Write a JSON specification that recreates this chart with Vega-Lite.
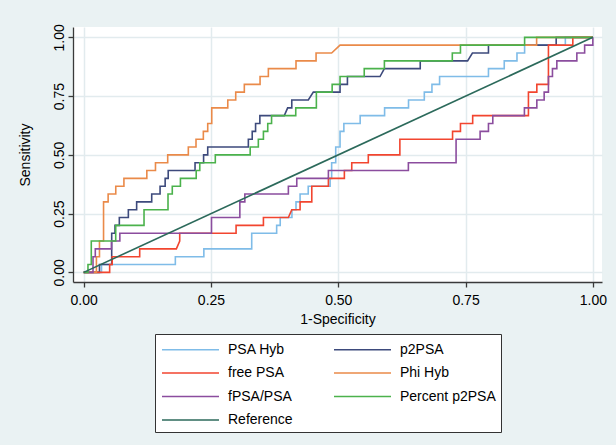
{
  "$schema": "https://vega.github.io/schema/vega-lite/v6.json",
  "autosize": {"type": "none"},
  "width": 529,
  "height": 255,
  "padding": {"left": 73, "top": 27, "right": 14, "bottom": 163},
  "background": "#eaf2f3",
  "config": {
    "view": {"fill": "white", "stroke": null},
    "font": "Liberation Sans",
    "axis": {
      "domainColor": "#3a3a3a", "domainWidth": 1.3, "tickColor": "#3a3a3a", "tickWidth": 1.3, "tickSize": 5,
      "gridColor": "#e2ebee", "gridWidth": 1.5,
      "labelFont": "Liberation Sans", "labelFontSize": 14, "labelColor": "black",
      "titleFont": "Liberation Sans", "titleFontSize": 14, "titleFontWeight": "normal", "titleColor": "black"
    },
    "legend": {
      "orient": "none", "legendX": 82, "legendY": 307, "columns": 2, "direction": "horizontal",
      "symbolType": "M-1,0H5", "symbolSize": 361, "symbolStrokeWidth": 1.6, "symbolFillColor": "transparent", "symbolOffset": 1,
      "labelFont": "Liberation Sans", "labelFontSize": 14, "labelColor": "black", "labelOffset": 46,
      "strokeColor": "#333", "fillColor": "white", "padding": 5, "rowPadding": 5.5, "columnPadding": 37
    }
  },
  "data": {"values": [
    {"s":"PSA Hyb","o":0,"x":0,"y":0},{"s":"PSA Hyb","o":1,"x":0.035,"y":0},{"s":"PSA Hyb","o":2,"x":0.035,"y":0.0333},{"s":"PSA Hyb","o":3,"x":0.18,"y":0.0333},{"s":"PSA Hyb","o":4,"x":0.18,"y":0.0667},{"s":"PSA Hyb","o":5,"x":0.236,"y":0.0667},{"s":"PSA Hyb","o":6,"x":0.236,"y":0.1},{"s":"PSA Hyb","o":7,"x":0.33,"y":0.1},{"s":"PSA Hyb","o":8,"x":0.33,"y":0.1667},{"s":"PSA Hyb","o":9,"x":0.379,"y":0.1667},{"s":"PSA Hyb","o":10,"x":0.379,"y":0.2},{"s":"PSA Hyb","o":11,"x":0.386,"y":0.2},{"s":"PSA Hyb","o":12,"x":0.386,"y":0.2333},{"s":"PSA Hyb","o":13,"x":0.409,"y":0.2333},{"s":"PSA Hyb","o":14,"x":0.409,"y":0.2667},{"s":"PSA Hyb","o":15,"x":0.417,"y":0.2667},{"s":"PSA Hyb","o":16,"x":0.417,"y":0.3},{"s":"PSA Hyb","o":17,"x":0.425,"y":0.3},{"s":"PSA Hyb","o":18,"x":0.425,"y":0.3333},{"s":"PSA Hyb","o":19,"x":0.441,"y":0.3333},{"s":"PSA Hyb","o":20,"x":0.441,"y":0.3667},{"s":"PSA Hyb","o":21,"x":0.484,"y":0.3667},{"s":"PSA Hyb","o":22,"x":0.484,"y":0.4},{"s":"PSA Hyb","o":23,"x":0.487,"y":0.4},{"s":"PSA Hyb","o":24,"x":0.487,"y":0.4667},{"s":"PSA Hyb","o":25,"x":0.495,"y":0.4667},{"s":"PSA Hyb","o":26,"x":0.495,"y":0.5333},{"s":"PSA Hyb","o":27,"x":0.5035,"y":0.5333},{"s":"PSA Hyb","o":28,"x":0.5035,"y":0.6},{"s":"PSA Hyb","o":29,"x":0.511,"y":0.6},{"s":"PSA Hyb","o":30,"x":0.511,"y":0.6333},{"s":"PSA Hyb","o":31,"x":0.543,"y":0.6333},{"s":"PSA Hyb","o":32,"x":0.543,"y":0.6667},{"s":"PSA Hyb","o":33,"x":0.591,"y":0.6667},{"s":"PSA Hyb","o":34,"x":0.591,"y":0.7},{"s":"PSA Hyb","o":35,"x":0.638,"y":0.7},{"s":"PSA Hyb","o":36,"x":0.638,"y":0.7333},{"s":"PSA Hyb","o":37,"x":0.669,"y":0.7333},{"s":"PSA Hyb","o":38,"x":0.669,"y":0.7667},{"s":"PSA Hyb","o":39,"x":0.684,"y":0.7667},{"s":"PSA Hyb","o":40,"x":0.684,"y":0.8},{"s":"PSA Hyb","o":41,"x":0.699,"y":0.8},{"s":"PSA Hyb","o":42,"x":0.699,"y":0.8333},{"s":"PSA Hyb","o":43,"x":0.795,"y":0.8333},{"s":"PSA Hyb","o":44,"x":0.795,"y":0.8667},{"s":"PSA Hyb","o":45,"x":0.826,"y":0.8667},{"s":"PSA Hyb","o":46,"x":0.826,"y":0.9},{"s":"PSA Hyb","o":47,"x":0.851,"y":0.9},{"s":"PSA Hyb","o":48,"x":0.851,"y":0.9333},{"s":"PSA Hyb","o":49,"x":0.866,"y":0.9333},{"s":"PSA Hyb","o":50,"x":0.866,"y":0.9667},{"s":"PSA Hyb","o":51,"x":0.946,"y":0.9667},{"s":"PSA Hyb","o":52,"x":0.946,"y":1},{"s":"PSA Hyb","o":53,"x":1,"y":1},

    {"s":"p2PSA","o":0,"x":0,"y":0},{"s":"p2PSA","o":1,"x":0.031,"y":0},{"s":"p2PSA","o":2,"x":0.031,"y":0.0333},{"s":"p2PSA","o":3,"x":0.055,"y":0.0333},{"s":"p2PSA","o":4,"x":0.055,"y":0.1667},{"s":"p2PSA","o":5,"x":0.0615,"y":0.1667},{"s":"p2PSA","o":6,"x":0.0615,"y":0.2},{"s":"p2PSA","o":7,"x":0.07,"y":0.2},{"s":"p2PSA","o":8,"x":0.07,"y":0.2333},{"s":"p2PSA","o":9,"x":0.0877,"y":0.2333},{"s":"p2PSA","o":10,"x":0.0877,"y":0.2667},{"s":"p2PSA","o":11,"x":0.104,"y":0.2667},{"s":"p2PSA","o":12,"x":0.104,"y":0.3},{"s":"p2PSA","o":13,"x":0.1336,"y":0.3},{"s":"p2PSA","o":14,"x":0.1336,"y":0.3333},{"s":"p2PSA","o":15,"x":0.15,"y":0.3333},{"s":"p2PSA","o":16,"x":0.15,"y":0.3667},{"s":"p2PSA","o":17,"x":0.16,"y":0.3667},{"s":"p2PSA","o":18,"x":0.16,"y":0.4},{"s":"p2PSA","o":19,"x":0.166,"y":0.4},{"s":"p2PSA","o":20,"x":0.166,"y":0.4333},{"s":"p2PSA","o":21,"x":0.2187,"y":0.4333},{"s":"p2PSA","o":22,"x":0.2187,"y":0.4667},{"s":"p2PSA","o":23,"x":0.2355,"y":0.4667},{"s":"p2PSA","o":24,"x":0.2355,"y":0.5},{"s":"p2PSA","o":25,"x":0.2436,"y":0.5},{"s":"p2PSA","o":26,"x":0.2436,"y":0.5333},{"s":"p2PSA","o":27,"x":0.3234,"y":0.5333},{"s":"p2PSA","o":28,"x":0.3234,"y":0.5667},{"s":"p2PSA","o":29,"x":0.331,"y":0.5667},{"s":"p2PSA","o":30,"x":0.331,"y":0.6},{"s":"p2PSA","o":31,"x":0.3376,"y":0.6},{"s":"p2PSA","o":32,"x":0.3376,"y":0.6333},{"s":"p2PSA","o":33,"x":0.346,"y":0.6333},{"s":"p2PSA","o":34,"x":0.346,"y":0.6667},{"s":"p2PSA","o":35,"x":0.394,"y":0.6667},{"s":"p2PSA","o":36,"x":0.4006,"y":0.7},{"s":"p2PSA","o":37,"x":0.4087,"y":0.7},{"s":"p2PSA","o":38,"x":0.4087,"y":0.7333},{"s":"p2PSA","o":39,"x":0.4412,"y":0.7333},{"s":"p2PSA","o":40,"x":0.451,"y":0.7667},{"s":"p2PSA","o":41,"x":0.5035,"y":0.7667},{"s":"p2PSA","o":42,"x":0.5035,"y":0.8},{"s":"p2PSA","o":43,"x":0.518,"y":0.8},{"s":"p2PSA","o":44,"x":0.518,"y":0.8333},{"s":"p2PSA","o":45,"x":0.582,"y":0.8333},{"s":"p2PSA","o":46,"x":0.5906,"y":0.8667},{"s":"p2PSA","o":47,"x":0.661,"y":0.8667},{"s":"p2PSA","o":48,"x":0.661,"y":0.9},{"s":"p2PSA","o":49,"x":0.754,"y":0.9},{"s":"p2PSA","o":50,"x":0.7635,"y":0.9333},{"s":"p2PSA","o":51,"x":0.795,"y":0.9333},{"s":"p2PSA","o":52,"x":0.795,"y":0.9667},{"s":"p2PSA","o":53,"x":0.928,"y":0.9667},{"s":"p2PSA","o":54,"x":0.928,"y":1},{"s":"p2PSA","o":55,"x":1,"y":1},

    {"s":"free PSA","o":0,"x":0,"y":0},{"s":"free PSA","o":1,"x":0.051,"y":0},{"s":"free PSA","o":2,"x":0.051,"y":0.0333},{"s":"free PSA","o":3,"x":0.056,"y":0.0333},{"s":"free PSA","o":4,"x":0.056,"y":0.0667},{"s":"free PSA","o":5,"x":0.11,"y":0.0667},{"s":"free PSA","o":6,"x":0.11,"y":0.1},{"s":"free PSA","o":7,"x":0.182,"y":0.1},{"s":"free PSA","o":8,"x":0.1886,"y":0.1333},{"s":"free PSA","o":9,"x":0.1886,"y":0.1667},{"s":"free PSA","o":10,"x":0.2993,"y":0.1667},{"s":"free PSA","o":11,"x":0.2993,"y":0.2},{"s":"free PSA","o":12,"x":0.353,"y":0.2},{"s":"free PSA","o":13,"x":0.353,"y":0.2333},{"s":"free PSA","o":14,"x":0.402,"y":0.2333},{"s":"free PSA","o":15,"x":0.4087,"y":0.2667},{"s":"free PSA","o":16,"x":0.425,"y":0.2667},{"s":"free PSA","o":17,"x":0.425,"y":0.3},{"s":"free PSA","o":18,"x":0.448,"y":0.3},{"s":"free PSA","o":19,"x":0.448,"y":0.3667},{"s":"free PSA","o":20,"x":0.4806,"y":0.3667},{"s":"free PSA","o":21,"x":0.4806,"y":0.4},{"s":"free PSA","o":22,"x":0.512,"y":0.4},{"s":"free PSA","o":23,"x":0.512,"y":0.4333},{"s":"free PSA","o":24,"x":0.5265,"y":0.4333},{"s":"free PSA","o":25,"x":0.5265,"y":0.4667},{"s":"free PSA","o":26,"x":0.559,"y":0.4667},{"s":"free PSA","o":27,"x":0.559,"y":0.5},{"s":"free PSA","o":28,"x":0.621,"y":0.5},{"s":"free PSA","o":29,"x":0.621,"y":0.5667},{"s":"free PSA","o":30,"x":0.7245,"y":0.5667},{"s":"free PSA","o":31,"x":0.7245,"y":0.6},{"s":"free PSA","o":32,"x":0.74,"y":0.6},{"s":"free PSA","o":33,"x":0.74,"y":0.6333},{"s":"free PSA","o":34,"x":0.764,"y":0.6333},{"s":"free PSA","o":35,"x":0.764,"y":0.6667},{"s":"free PSA","o":36,"x":0.8735,"y":0.6667},{"s":"free PSA","o":37,"x":0.8735,"y":0.7667},{"s":"free PSA","o":38,"x":0.89,"y":0.7667},{"s":"free PSA","o":39,"x":0.89,"y":0.8},{"s":"free PSA","o":40,"x":0.9128,"y":0.8},{"s":"free PSA","o":41,"x":0.9128,"y":0.9667},{"s":"free PSA","o":42,"x":0.9607,"y":0.9667},{"s":"free PSA","o":43,"x":0.9607,"y":1},{"s":"free PSA","o":44,"x":1,"y":1},

    {"s":"Phi Hyb","o":0,"x":0,"y":0},{"s":"Phi Hyb","o":1,"x":0.025,"y":0},{"s":"Phi Hyb","o":2,"x":0.025,"y":0.0667},{"s":"Phi Hyb","o":3,"x":0.031,"y":0.0667},{"s":"Phi Hyb","o":4,"x":0.031,"y":0.1333},{"s":"Phi Hyb","o":5,"x":0.039,"y":0.1333},{"s":"Phi Hyb","o":6,"x":0.039,"y":0.3},{"s":"Phi Hyb","o":7,"x":0.048,"y":0.3},{"s":"Phi Hyb","o":8,"x":0.048,"y":0.3333},{"s":"Phi Hyb","o":9,"x":0.063,"y":0.3333},{"s":"Phi Hyb","o":10,"x":0.063,"y":0.3667},{"s":"Phi Hyb","o":11,"x":0.079,"y":0.3667},{"s":"Phi Hyb","o":12,"x":0.079,"y":0.4},{"s":"Phi Hyb","o":13,"x":0.124,"y":0.4},{"s":"Phi Hyb","o":14,"x":0.124,"y":0.4333},{"s":"Phi Hyb","o":15,"x":0.141,"y":0.4333},{"s":"Phi Hyb","o":16,"x":0.141,"y":0.4667},{"s":"Phi Hyb","o":17,"x":0.165,"y":0.4667},{"s":"Phi Hyb","o":18,"x":0.165,"y":0.5},{"s":"Phi Hyb","o":19,"x":0.2055,"y":0.5},{"s":"Phi Hyb","o":20,"x":0.2055,"y":0.5333},{"s":"Phi Hyb","o":21,"x":0.2206,"y":0.5333},{"s":"Phi Hyb","o":22,"x":0.2206,"y":0.5667},{"s":"Phi Hyb","o":23,"x":0.235,"y":0.5667},{"s":"Phi Hyb","o":24,"x":0.235,"y":0.6},{"s":"Phi Hyb","o":25,"x":0.2436,"y":0.6},{"s":"Phi Hyb","o":26,"x":0.2436,"y":0.6333},{"s":"Phi Hyb","o":27,"x":0.2515,"y":0.6333},{"s":"Phi Hyb","o":28,"x":0.2515,"y":0.7},{"s":"Phi Hyb","o":29,"x":0.283,"y":0.7},{"s":"Phi Hyb","o":30,"x":0.283,"y":0.7333},{"s":"Phi Hyb","o":31,"x":0.2986,"y":0.7333},{"s":"Phi Hyb","o":32,"x":0.2986,"y":0.7667},{"s":"Phi Hyb","o":33,"x":0.3155,"y":0.7667},{"s":"Phi Hyb","o":34,"x":0.3155,"y":0.8},{"s":"Phi Hyb","o":35,"x":0.3464,"y":0.8},{"s":"Phi Hyb","o":36,"x":0.3464,"y":0.8333},{"s":"Phi Hyb","o":37,"x":0.3627,"y":0.8333},{"s":"Phi Hyb","o":38,"x":0.3627,"y":0.8667},{"s":"Phi Hyb","o":39,"x":0.417,"y":0.8667},{"s":"Phi Hyb","o":40,"x":0.417,"y":0.9},{"s":"Phi Hyb","o":41,"x":0.4564,"y":0.9},{"s":"Phi Hyb","o":42,"x":0.4564,"y":0.9333},{"s":"Phi Hyb","o":43,"x":0.487,"y":0.9333},{"s":"Phi Hyb","o":44,"x":0.5035,"y":0.9667},{"s":"Phi Hyb","o":45,"x":0.8896,"y":0.9667},{"s":"Phi Hyb","o":46,"x":0.8896,"y":1},{"s":"Phi Hyb","o":47,"x":1,"y":1},

    {"s":"fPSA/PSA","o":0,"x":0,"y":0},{"s":"fPSA/PSA","o":1,"x":0.0183,"y":0},{"s":"fPSA/PSA","o":2,"x":0.0183,"y":0.0667},{"s":"fPSA/PSA","o":3,"x":0.0228,"y":0.0667},{"s":"fPSA/PSA","o":4,"x":0.0228,"y":0.1},{"s":"fPSA/PSA","o":5,"x":0.0546,"y":0.1},{"s":"fPSA/PSA","o":6,"x":0.0546,"y":0.1333},{"s":"fPSA/PSA","o":7,"x":0.071,"y":0.1333},{"s":"fPSA/PSA","o":8,"x":0.071,"y":0.1667},{"s":"fPSA/PSA","o":9,"x":0.251,"y":0.1667},{"s":"fPSA/PSA","o":10,"x":0.251,"y":0.2333},{"s":"fPSA/PSA","o":11,"x":0.3067,"y":0.2333},{"s":"fPSA/PSA","o":12,"x":0.3067,"y":0.3},{"s":"fPSA/PSA","o":13,"x":0.3165,"y":0.3},{"s":"fPSA/PSA","o":14,"x":0.3165,"y":0.3333},{"s":"fPSA/PSA","o":15,"x":0.402,"y":0.3333},{"s":"fPSA/PSA","o":16,"x":0.402,"y":0.3667},{"s":"fPSA/PSA","o":17,"x":0.4185,"y":0.3667},{"s":"fPSA/PSA","o":18,"x":0.4185,"y":0.4},{"s":"fPSA/PSA","o":19,"x":0.4806,"y":0.4},{"s":"fPSA/PSA","o":20,"x":0.4806,"y":0.4333},{"s":"fPSA/PSA","o":21,"x":0.6377,"y":0.4333},{"s":"fPSA/PSA","o":22,"x":0.6377,"y":0.4667},{"s":"fPSA/PSA","o":23,"x":0.7314,"y":0.4667},{"s":"fPSA/PSA","o":24,"x":0.7314,"y":0.5667},{"s":"fPSA/PSA","o":25,"x":0.7786,"y":0.5667},{"s":"fPSA/PSA","o":26,"x":0.7786,"y":0.6},{"s":"fPSA/PSA","o":27,"x":0.795,"y":0.6},{"s":"fPSA/PSA","o":28,"x":0.795,"y":0.6333},{"s":"fPSA/PSA","o":29,"x":0.8035,"y":0.6333},{"s":"fPSA/PSA","o":30,"x":0.8035,"y":0.6667},{"s":"fPSA/PSA","o":31,"x":0.8656,"y":0.6667},{"s":"fPSA/PSA","o":32,"x":0.8656,"y":0.7},{"s":"fPSA/PSA","o":33,"x":0.89,"y":0.7},{"s":"fPSA/PSA","o":34,"x":0.89,"y":0.7333},{"s":"fPSA/PSA","o":35,"x":0.9044,"y":0.7333},{"s":"fPSA/PSA","o":36,"x":0.9044,"y":0.7667},{"s":"fPSA/PSA","o":37,"x":0.9128,"y":0.7667},{"s":"fPSA/PSA","o":38,"x":0.9128,"y":0.8333},{"s":"fPSA/PSA","o":39,"x":0.9207,"y":0.8333},{"s":"fPSA/PSA","o":40,"x":0.9207,"y":0.8667},{"s":"fPSA/PSA","o":41,"x":0.9293,"y":0.8667},{"s":"fPSA/PSA","o":42,"x":0.9293,"y":0.9},{"s":"fPSA/PSA","o":43,"x":0.9686,"y":0.9},{"s":"fPSA/PSA","o":44,"x":0.9686,"y":0.9333},{"s":"fPSA/PSA","o":45,"x":0.9839,"y":0.9333},{"s":"fPSA/PSA","o":46,"x":0.9839,"y":0.9667},{"s":"fPSA/PSA","o":47,"x":1,"y":0.9667},{"s":"fPSA/PSA","o":48,"x":1,"y":1},

    {"s":"Percent p2PSA","o":0,"x":0,"y":0},{"s":"Percent p2PSA","o":1,"x":0.0084,"y":0},{"s":"Percent p2PSA","o":2,"x":0.0084,"y":0.0333},{"s":"Percent p2PSA","o":3,"x":0.0149,"y":0.0333},{"s":"Percent p2PSA","o":4,"x":0.0149,"y":0.1333},{"s":"Percent p2PSA","o":5,"x":0.0629,"y":0.1333},{"s":"Percent p2PSA","o":6,"x":0.0629,"y":0.2},{"s":"Percent p2PSA","o":7,"x":0.1185,"y":0.2},{"s":"Percent p2PSA","o":8,"x":0.1185,"y":0.2667},{"s":"Percent p2PSA","o":9,"x":0.1656,"y":0.2667},{"s":"Percent p2PSA","o":10,"x":0.1656,"y":0.3333},{"s":"Percent p2PSA","o":11,"x":0.174,"y":0.3333},{"s":"Percent p2PSA","o":12,"x":0.174,"y":0.3667},{"s":"Percent p2PSA","o":13,"x":0.19,"y":0.3667},{"s":"Percent p2PSA","o":14,"x":0.19,"y":0.4},{"s":"Percent p2PSA","o":15,"x":0.221,"y":0.4},{"s":"Percent p2PSA","o":16,"x":0.221,"y":0.4333},{"s":"Percent p2PSA","o":17,"x":0.228,"y":0.4333},{"s":"Percent p2PSA","o":18,"x":0.228,"y":0.4667},{"s":"Percent p2PSA","o":19,"x":0.2585,"y":0.4667},{"s":"Percent p2PSA","o":20,"x":0.2585,"y":0.5},{"s":"Percent p2PSA","o":21,"x":0.327,"y":0.5},{"s":"Percent p2PSA","o":22,"x":0.327,"y":0.5333},{"s":"Percent p2PSA","o":23,"x":0.343,"y":0.5333},{"s":"Percent p2PSA","o":24,"x":0.343,"y":0.5667},{"s":"Percent p2PSA","o":25,"x":0.353,"y":0.5667},{"s":"Percent p2PSA","o":26,"x":0.353,"y":0.6},{"s":"Percent p2PSA","o":27,"x":0.3615,"y":0.6},{"s":"Percent p2PSA","o":28,"x":0.3615,"y":0.6333},{"s":"Percent p2PSA","o":29,"x":0.369,"y":0.6333},{"s":"Percent p2PSA","o":30,"x":0.369,"y":0.6667},{"s":"Percent p2PSA","o":31,"x":0.4165,"y":0.6667},{"s":"Percent p2PSA","o":32,"x":0.4165,"y":0.7},{"s":"Percent p2PSA","o":33,"x":0.457,"y":0.7},{"s":"Percent p2PSA","o":34,"x":0.457,"y":0.7667},{"s":"Percent p2PSA","o":35,"x":0.488,"y":0.7667},{"s":"Percent p2PSA","o":36,"x":0.488,"y":0.8},{"s":"Percent p2PSA","o":37,"x":0.5035,"y":0.8},{"s":"Percent p2PSA","o":38,"x":0.5035,"y":0.8333},{"s":"Percent p2PSA","o":39,"x":0.551,"y":0.8333},{"s":"Percent p2PSA","o":40,"x":0.551,"y":0.8667},{"s":"Percent p2PSA","o":41,"x":0.5906,"y":0.8667},{"s":"Percent p2PSA","o":42,"x":0.5906,"y":0.9},{"s":"Percent p2PSA","o":43,"x":0.724,"y":0.9},{"s":"Percent p2PSA","o":44,"x":0.724,"y":0.9333},{"s":"Percent p2PSA","o":45,"x":0.74,"y":0.9333},{"s":"Percent p2PSA","o":46,"x":0.74,"y":0.9667},{"s":"Percent p2PSA","o":47,"x":0.866,"y":0.9667},{"s":"Percent p2PSA","o":48,"x":0.866,"y":1},{"s":"Percent p2PSA","o":49,"x":1,"y":1},

    {"s":"Reference","o":0,"x":0,"y":0},{"s":"Reference","o":1,"x":1,"y":1}
  ]},
  "mark": {"type": "line", "strokeWidth": 1.6, "clip": false},
  "encoding": {
    "x": {"field": "x", "type": "quantitative",
      "scale": {"domain": [-0.021, 1.018], "nice": false, "zero": false},
      "axis": {"values": [0, 0.25, 0.5, 0.75, 1], "format": ".2f", "title": "1-Specificity",
        "labelPadding": 6, "labelBaseline": "top", "titleBaseline": "alphabetic", "titleY": 41, "titleX": 264.5, "titleAlign": "center"}},
    "y": {"field": "y", "type": "quantitative",
      "scale": {"domain": [-0.041, 1.044], "nice": false, "zero": false},
      "axis": {"values": [0, 0.25, 0.5, 0.75, 1], "format": ".2f", "title": "Sensitivity",
        "labelAngle": -90, "labelAlign": "center", "labelBaseline": "alphabetic", "labelPadding": 5,
        "titleAngle": -90, "titleAlign": "center", "titleBaseline": "alphabetic", "titleX": -43.5, "titleY": 127.5}},
    "color": {"field": "s", "type": "nominal",
      "scale": {"domain": ["PSA Hyb", "p2PSA", "free PSA", "Phi Hyb", "fPSA/PSA", "Percent p2PSA", "Reference"],
        "range": ["#7fbce8", "#3d4a7c", "#f2452f", "#ea8a49", "#8b4d9e", "#4bb24c", "#2c6a5b"]},
      "legend": {"title": null, "labelExpr": "datum.label == 'Percent p2PSA' ? datum.label + '\u00a0\u00a0\u00a0\u00a0\u00a0\u00a0\u00a0' : datum.label"}},
    "order": {"field": "o", "type": "quantitative"}
  }
}
